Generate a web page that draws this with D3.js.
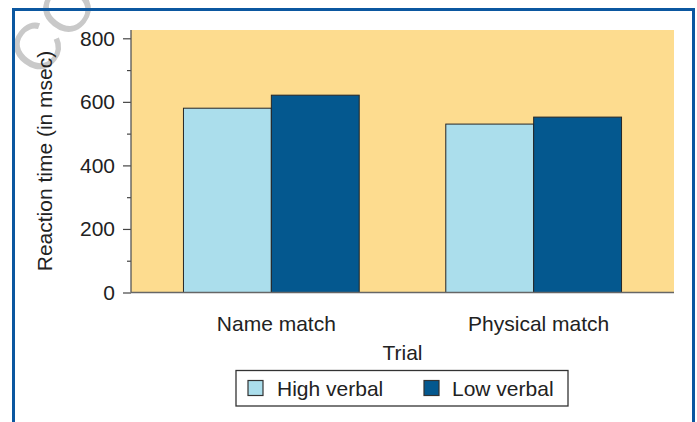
<!DOCTYPE html>
<html><head><meta charset="utf-8">
<script src="https://cdn.jsdelivr.net/npm/d3@7"></script>
<style>
html,body{margin:0;padding:0;background:#fff;}
svg{display:block;font-family:"Liberation Sans",Arial,Helvetica,sans-serif;}
</style></head>
<body>
<script>
const categories = ["Name match", "Physical match"];
const seriesNames = ["High verbal", "Low verbal"];
const highVerbal = [580, 530];
const lowVerbal = [621, 552];
const yTicks = [0, 200, 400, 600, 800];
const yMinorTicks = [100, 300, 500, 700];
const xTitle = "Trial";
const yTitle = "Reaction time (in msec)";

const W = 697, H = 422;
const colors = ["#abdeec", "#04588f"];
const FS = 21;
const svg = d3.select("body").append("svg").attr("width", W).attr("height", H);

// watermark
svg.append("text").attr("transform", "translate(40,80) rotate(-52)")
  .attr("font-size", 66).attr("fill", "#c9c9c9").text("COPY");

// frame
svg.append("path").attr("d", `M13.5,${H+5} V9.5 H693.5 V${H+5}`)
  .attr("fill", "none").attr("stroke", "#0b57a0").attr("stroke-width", 3);

const plot = {l: 131, r: 674, t: 30, b: 292.5};
const x = d3.scaleBand().domain(categories).range([plot.l, plot.r]).paddingInner(0.33).paddingOuter(0.2);
const xs = d3.scaleBand().domain(seriesNames).range([0, x.bandwidth()]);
const y = d3.scaleLinear().domain([0, 800]).range([plot.b, 38.3]);

svg.append("rect").attr("x", plot.l).attr("y", plot.t).attr("width", plot.r - plot.l).attr("height", plot.b - plot.t)
  .attr("fill", "#fddc8f");

const series = [highVerbal, lowVerbal];
series.forEach((vals, si) => {
  svg.append("g").selectAll("rect").data(vals).join("rect")
    .attr("x", (d, i) => x(categories[i]) + xs(seriesNames[si]))
    .attr("y", d => y(d))
    .attr("width", xs.bandwidth())
    .attr("height", d => y(0) - y(d))
    .attr("fill", colors[si]).attr("stroke", "#262626").attr("stroke-width", 1);
});

// y axis
const yAxis = svg.append("g").attr("transform", `translate(${plot.l},0)`)
  .call(d3.axisLeft(y).tickValues(yTicks).tickSize(8).tickPadding(8).tickFormat(d3.format("d")));
yAxis.select(".domain").remove();
yAxis.selectAll("line").attr("stroke", "#444").attr("stroke-width", 1.2);
yAxis.selectAll("text").attr("font-size", FS).attr("fill", "#222").attr("font-family", "Liberation Sans, Arial, sans-serif");
const yMinor = svg.append("g").attr("transform", `translate(${plot.l},0)`)
  .call(d3.axisLeft(y).tickValues(yMinorTicks).tickSize(4).tickFormat(""));
yMinor.select(".domain").remove();
yMinor.selectAll("line").attr("stroke", "#444").attr("stroke-width", 1.2);

svg.append("line").attr("x1", plot.l).attr("x2", plot.l).attr("y1", plot.t).attr("y2", plot.b)
  .attr("stroke", "#555").attr("stroke-width", 1.3);
svg.append("line").attr("x1", plot.l).attr("x2", plot.r).attr("y1", plot.b).attr("y2", plot.b)
  .attr("stroke", "#666").attr("stroke-width", 1.5);

// x axis labels
const xAxis = svg.append("g").attr("transform", `translate(5,${plot.b})`)
  .call(d3.axisBottom(x).tickSize(0).tickPadding(24));
xAxis.select(".domain").remove();
xAxis.selectAll("text").attr("font-size", FS).attr("fill", "#222").attr("font-family", "Liberation Sans, Arial, sans-serif");

svg.append("text").attr("x", (plot.l + plot.r) / 2).attr("y", 360).attr("text-anchor", "middle")
  .attr("font-size", FS).attr("fill", "#222").text(xTitle);
svg.append("text").attr("transform", `translate(52,161) rotate(-90)`).attr("text-anchor", "middle")
  .attr("font-size", FS).attr("fill", "#222").text(yTitle);

// legend
const lg = svg.append("g");
lg.append("rect").attr("x", 236).attr("y", 370.5).attr("width", 332).attr("height", 35.5)
  .attr("fill", "#fff").attr("stroke", "#333").attr("stroke-width", 1.3);
const lx = [248, 424], tx = [277, 452];
seriesNames.forEach((n, i) => {
  lg.append("rect").attr("x", lx[i]).attr("y", 380.5).attr("width", 15).attr("height", 15)
    .attr("fill", colors[i]).attr("stroke", "#333").attr("stroke-width", 1.2);
  lg.append("text").attr("x", tx[i]).attr("y", 395.5).attr("font-size", FS).attr("fill", "#222").text(n);
});
</script>
</body></html>
